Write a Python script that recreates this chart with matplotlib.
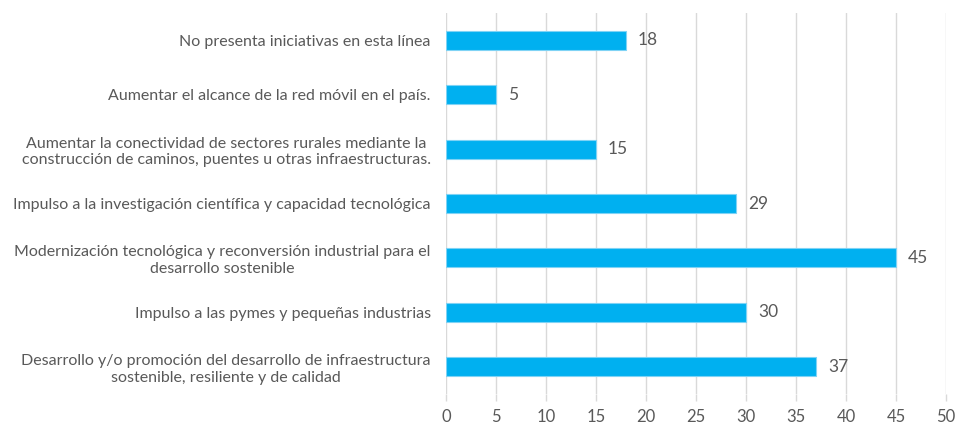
import matplotlib.pyplot as plt

plt.rcParams['font.family'] = ['Lato', 'DejaVu Sans']

# categories listed bottom to top
categories = [
    "Desarrollo y/o promoción del desarrollo de infraestructura\nsostenible, resiliente y de calidad",
    "Impulso a las pymes y pequeñas industrias",
    "Modernización tecnológica y reconversión industrial para el\ndesarrollo sostenible",
    "Impulso a la investigación científica y capacidad tecnológica",
    "Aumentar la conectividad de sectores rurales mediante la\nconstrucción de caminos, puentes u otras infraestructuras.",
    "Aumentar el alcance de la red móvil en el país.",
    "No presenta iniciativas en esta línea",
]
values = [37, 30, 45, 29, 15, 5, 18]
xticks = list(range(0, 55, 5))

text_color = '#595959'
bar_color = '#00B0F0'

fig = plt.figure(figsize=(9.57, 4.25), dpi=100)
ax = fig.add_axes([0.466, 0.073, 0.5225, 0.896])

ypos = range(len(categories))
ax.barh(ypos, values, height=0.35, color=bar_color, edgecolor='#7fd3f5', linewidth=0.8, zorder=3)
for y, v in zip(ypos, values):
    ax.text(v + 1.2, y, str(v), va='center', ha='left', fontsize=12.5, color=text_color)

ax.set_xlim(0, 50)
ax.set_ylim(-0.5, len(categories) - 0.5)
ax.set_xticks(xticks)
ax.set_yticks(list(ypos))
ax.set_yticklabels(categories, fontsize=11.5, color=text_color, linespacing=1.25,
                   multialignment='center')
ax.tick_params(axis='y', length=0, pad=11)
ax.tick_params(axis='x', length=5, color='#d9d9d9', width=1, labelsize=12, labelcolor=text_color, pad=6)
ax.grid(axis='x', color='#d9d9d9', linewidth=1, zorder=0)
for s in ax.spines.values():
    s.set_visible(False)

fig.savefig('out.png', dpi=100)
